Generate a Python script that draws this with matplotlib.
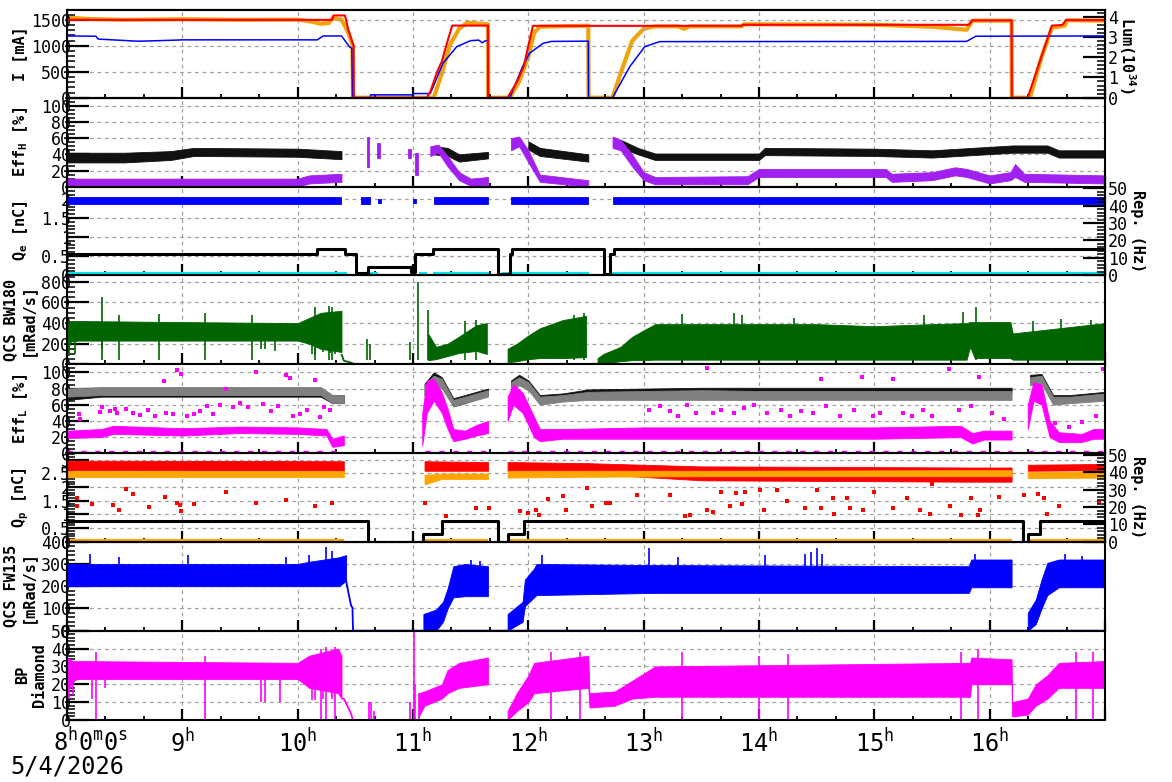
import numpy as np
import matplotlib
matplotlib.use("Agg")
import matplotlib.pyplot as plt
from matplotlib.ticker import MultipleLocator, FixedLocator, FuncFormatter, NullFormatter
from matplotlib import transforms

nan = np.nan

# ---------------- Panel 1 : currents and luminosity ----------------
her_t = [8.0, 8.25, 8.27, 8.6, 8.65, 8.95, 9.0, 10.17, 10.22, 10.38, 10.45, 10.47, 10.475, 10.63, 10.632,
         11.0, 11.002, 11.15, 11.26, 11.38, 11.5, 11.57, 11.6, 11.63, 11.65, 11.652, 11.84, 11.95, 12.01,
         12.13, 12.2, 12.52, 12.522, 12.73, 12.88, 13.01, 13.14, 15.8, 15.88, 17.0]
her_v = [1190, 1185, 1130, 1090, 1090, 1110, 1115, 1115, 1190, 1190, 980, 950, 0, 0, 55,
         55, 80, 80, 664, 985, 1100, 1110, 1060, 1100, 1100, 0, 0, 600, 857,
         1050, 1085, 1090, 0, 0, 600, 985, 1081, 1085, 1185, 1190]

ler_t = [8.0, 10.3, 10.31, 10.41, 10.44, 10.485, 10.487, 11.12, 11.15, 11.21, 11.25, 11.29, 11.34, 11.65,
         11.652, 11.82, 11.9, 11.96, 12.0, 12.04, 13.85, 13.86, 15.82, 15.85, 16.19, 16.192, 16.33, 16.45,
         16.54, 16.63, 16.66, 17.0]
ler_v = [1500, 1500, 1585, 1585, 1300, 1000, 0, 0, 116, 500, 700, 1017, 1390, 1390,
         0, 0, 300, 600, 1000, 1385, 1385, 1405, 1405, 1490, 1490, 0, 0, 800,
         1390, 1400, 1495, 1495]

lum_t = [8.0, 8.2, 8.5, 9.0, 9.5, 10.0, 10.12, 10.2, 10.27, 10.3, 10.38, 10.44, 10.475, 10.48, 11.18,
         11.25, 11.32, 11.4, 11.47, 11.65, 11.652, 11.84, 11.92, 12.0, 12.05, 12.1, 12.52, 12.522, 12.73,
         12.8, 12.9, 13.0, 13.1, 13.3, 13.35, 13.4, 13.85, 13.87, 15.0, 15.5, 15.8, 15.85, 16.19, 16.192,
         16.35, 16.45, 16.54, 16.65, 16.67, 17.0]
lum_v = [3.95, 3.88, 3.84, 3.87, 3.84, 3.85, 3.75, 3.65, 3.68, 3.92, 3.85, 3.2, 2.6, 0, 0,
         1.2, 2.6, 3.4, 3.7, 3.62, 0, 0, 0.8, 2.0, 3.2, 3.5, 3.55, 0, 0,
         1.2, 2.8, 3.4, 3.52, 3.52, 3.4, 3.52, 3.52, 3.62, 3.6, 3.5, 3.35, 3.8, 3.8, 0,
         0, 2.0, 3.45, 3.55, 3.82, 3.8]

# ---------------- Panel 2 : Eff_H ----------------
effh_k_t = [8.0, 8.5, 8.9, 9.1, 10.0, 10.38, nan, 11.18, 11.3, 11.4, 11.65, nan, 12.0, 12.1, 12.52, nan,
            12.8, 12.95, 13.1, 14.0, 14.05, 15.0, 15.5, 16.2, 16.5, 16.6, 17.0]
effh_k_lo = [30, 30, 33, 38, 37, 34, nan, 40, 38, 31, 35, nan, 46, 38, 31, nan,
             48, 40, 33, 33, 39, 38, 36, 42, 42, 36, 36]
effh_k_hi = [42, 42, 44, 48, 47, 44, nan, 50, 48, 40, 43, nan, 56, 48, 40, nan,
             58, 48, 41, 41, 48, 47, 45, 51, 51, 45, 45]

effh_p_t = [8.0, 10.0, 10.1, 10.38, nan, 10.6, 10.62, nan, 10.69, 10.71, nan, 10.96, 10.98, nan, 11.02,
            11.04, nan, 11.15, 11.22, 11.3, 11.4, 11.5, 11.65, nan, 11.85, 11.92, 12.0, 12.1, 12.52, nan,
            12.73, 12.8, 12.9, 13.0, 13.1, 13.9, 14.0, 15.1, 15.15, 15.5, 15.7, 15.8, 16.0, 16.18, 16.22,
            16.3, 17.0]
effh_p_lo = [0, 0, 4, 6, nan, 24, 24, nan, 35, 35, nan, 35, 35, nan, 15,
             15, nan, 38, 42, 25, 8, 1, 2, nan, 45, 50, 30, 6, 0, nan,
             48, 45, 25, 8, 3, 3, 12, 12, 6, 8, 14, 12, 4, 8, 12,
             6, 4]
effh_p_hi = [10, 10, 14, 16, nan, 62, 62, nan, 54, 54, nan, 47, 47, nan, 42,
             42, nan, 50, 52, 38, 18, 10, 12, nan, 60, 62, 45, 15, 8, nan,
             62, 58, 40, 18, 12, 13, 22, 22, 16, 18, 24, 22, 14, 18, 28,
             16, 14]

# ---------------- Panel 3 : Q_e and e- repetition ----------------
qe_t = [8.0, 10.38, nan, 10.55, 10.63, nan, 10.7, 10.72, nan, 11.0, 11.03, nan, 11.18, 11.65, nan,
        11.85, 12.52, nan, 12.73, 17.0]
qe_lo = [1.86, 1.86, nan, 1.86, 1.86, nan, 1.88, 1.88, nan, 1.88, 1.88, nan, 1.86, 1.86, nan,
         1.86, 1.86, nan, 1.86, 1.86]
qe_hi = [2.04, 2.04, nan, 2.04, 2.04, nan, 2.0, 2.0, nan, 2.0, 2.0, nan, 2.04, 2.04, nan,
         2.04, 2.04, nan, 2.05, 2.05]

rep_e_t = [8.0, 10.17, 10.41, 10.51, 10.61, 10.98, 11.02, 11.17, 11.74, 11.84, 11.86, 12.66, 12.71, 12.74, 17.0]
rep_e_v = [12.5, 15, 12.5, 1, 5, 2, 12.5, 15, 0.5, 12.5, 15, 0.5, 12.5, 15, 15]

cyan_t = [8.0, 10.43, nan, 10.58, 10.7, nan, 10.98, 11.03, nan, 11.05, 11.12, nan, 11.17, 11.66, nan,
          11.77, 12.53, nan, 12.7, 17.0]
cyan_v = [0.02, 0.02, nan, 0.02, 0.02, nan, 0.02, 0.02, nan, 0.02, 0.02, nan, 0.02, 0.02, nan,
          0.02, 0.02, nan, 0.02, 0.02]

# ---------------- Panel 4 : QCS BW180 ----------------
bw_t = [8.0, 8.03, 8.1, 9.0, 10.0, 10.1, 10.2, 10.38, nan, 11.13, 11.2, 11.3, 11.4, 11.55, 11.64, nan,
        11.82, 11.9, 12.0, 12.1, 12.3, 12.5, nan, 12.6, 12.65, 12.8, 12.9, 13.0, 13.1, 14.5, 15.0, 15.5,
        15.8, 15.83, 15.87, 16.18, 16.2, 16.6, 17.0]
bw_lo = [100, 220, 230, 230, 230, 200, 150, 120, nan, 40, 50, 80, 110, 130, 100, nan,
         20, 30, 50, 60, 60, 70, nan, 0, 10, 30, 40, 40, 45, 45, 45, 45,
         45, 170, 60, 60, 45, 45, 45]
bw_hi = [400, 420, 420, 410, 400, 450, 500, 520, nan, 300, 170, 200, 270, 380, 400, nan,
         150, 200, 280, 350, 430, 470, nan, 60, 100, 170, 267, 330, 390, 390, 370, 390,
         400, 410, 410, 410, 300, 350, 400]
bw_tail_t = [10.38, 10.4, 10.45, 10.5, 17.0]
bw_tail_v = [100, 35, 20, 0, 0]
bw_spk_t = [8.3, 8.45, 8.8, 9.2, 9.6, 10.15, 10.27, 10.3, 10.6, 10.63, 10.97, 11.04, 11.13, 11.45, 11.55,
            12.4, 12.48, 13.33, 13.78, 13.85, 14.3, 15.43, 15.77, 15.88, 16.38, 16.62, 16.88]
bw_spk_v = [650, 480, 490, 500, 480, 560, 570, 560, 250, 200, 220, 800, 530, 420, 430,
            480, 500, 493, 500, 480, 450, 478, 510, 560, 420, 440, 430]
bw_dip_t = [8.02, 8.07, 8.3, 9.68, 9.72, 9.8, 10.12, 10.15, 10.22, 10.28, 10.32]
bw_dip_v = [80, 100, 150, 150, 150, 130, 100, 100, 120, 110, 100]

# ---------------- Panel 5 : Eff_L ----------------
effl_t = [8.0, 8.3, 10.2, 10.3, 10.4, nan, 11.1, 11.18, 11.25, 11.35, 11.45, 11.65, nan, 11.85, 11.92,
          12.0, 12.1, 12.3, 12.52, 13.5, 14.0, 15.0, 15.8, 16.19, nan, 16.35, 16.45, 16.55, 16.7, 17.0]
effl_k_lo = [66, 70, 70, 62, 62, nan, 72, 88, 84, 58, 62, 72, nan, 78, 88,
             82, 62, 66, 73, 76, 76, 76, 76, 76, nan, 88, 90, 62, 64, 67]
effl_k_hi = [76, 80, 80, 72, 72, nan, 86, 100, 94, 68, 72, 80, nan, 90, 97,
             90, 72, 74, 79, 81, 81, 81, 81, 81, nan, 97, 98, 72, 72, 76]
effl_g_lo = [70, 72, 72, 62, 62, nan, 70, 84, 80, 58, 62, 70, nan, 75, 84,
             78, 60, 64, 66, 66, 66, 66, 66, 66, nan, 84, 86, 60, 62, 65]
effl_g_hi = [80, 82, 82, 72, 72, nan, 84, 96, 92, 66, 70, 78, nan, 88, 94,
             88, 70, 72, 76, 78, 77, 77, 77, 77, nan, 94, 96, 70, 70, 74]
effl_m_t = [8.0, 8.3, 8.4, 9.0, 9.5, 10.0, 10.25, 10.3, 10.4, nan, 11.08, 11.12, 11.18, 11.25, 11.3,
            11.35, 11.45, 11.55, 11.65, nan, 11.82, 11.87, 11.95, 12.05, 12.1, 12.3, 13.0, 14.0, 15.0,
            15.75, 15.85, 15.95, 16.19, nan, 16.33, 16.38, 16.45, 16.52, 16.6, 16.8, 16.9, 17.0]
effl_m_lo = [19, 20, 24, 22, 25, 24, 22, 8, 10, nan, 10, 50, 65, 50, 30,
             15, 18, 22, 25, nan, 40, 60, 50, 20, 15, 18, 18, 18, 18,
             20, 12, 17, 17, nan, 30, 65, 60, 20, 14, 14, 18, 18]
effl_m_hi = [28, 30, 34, 31, 33, 32, 30, 18, 22, nan, 50, 90, 92, 75, 55,
             30, 28, 35, 40, nan, 70, 85, 75, 45, 30, 30, 32, 32, 32,
             34, 25, 28, 28, nan, 60, 88, 85, 40, 26, 24, 30, 30]
effl_dot_t = [8.1, 8.11, 8.29, 8.3, 8.37, 8.42, 8.43, 8.51, 8.57, 8.63, 8.7, 8.76, 8.84, 8.86, 8.92, 8.95,
              8.99, 9.04, 9.1, 9.15, 9.21, 9.27, 9.33, 9.38, 9.44, 9.5, 9.57, 9.64, 9.7, 9.77, 9.83, 9.9,
              9.93, 9.96, 10.02, 10.08, 10.15, 10.19, 10.23, 10.28,
              13.05, 13.14, 13.23, 13.3, 13.38, 13.45, 13.55, 13.6, 13.67, 13.78, 13.87, 13.96, 14.07,
              14.19, 14.27, 14.36, 14.47, 14.54, 14.58, 14.7, 14.82, 14.89, 14.99, 15.05, 15.16, 15.25,
              15.33, 15.42, 15.5, 15.65, 15.73, 15.84, 15.91, 16.02, 16.12, 16.57, 16.69, 16.8, 16.92, 16.98]
effl_dot_v = [48, 42, 51, 57, 52, 55, 50, 55, 50, 47, 53, 46, 89, 50, 48, 103,
              98, 46, 49, 52, 58, 49, 60, 80, 57, 62, 57, 101, 61, 52, 58, 97,
              93, 46, 48, 54, 91, 45, 57, 53,
              54, 58, 52, 46, 60, 50, 106, 50, 54, 50, 56, 60, 50,
              54, 46, 52, 50, 92, 58, 46, 54, 94, 46, 50, 92, 50,
              46, 54, 46, 104, 54, 58, 94, 50, 42, 37, 33, 39, 46, 104]
effl_zero_t = [8.0, 10.4, nan, 11.1, 11.65, nan, 11.82, 16.19, nan, 16.33, 17.0]
effl_zero_v = [1, 1, nan, 1, 1, nan, 1, 1, nan, 1, 1]

# ---------------- Panel 6 : Q_p and e+ repetition ----------------
qp_t = [8.0, 10.4, nan, 11.1, 11.25, 11.65, nan, 11.82, 12.5, 13.5, 15.8, 16.19, nan, 16.33, 17.0]
qp_r_lo = [2.62, 2.6, nan, 2.6, 2.6, 2.6, nan, 2.58, 2.5, 2.25, 2.2, 2.2, nan, 2.6, 2.62]
qp_r_hi = [2.97, 2.95, nan, 2.95, 2.94, 2.92, nan, 2.92, 2.88, 2.76, 2.72, 2.72, nan, 2.82, 2.85]
qp_o_lo = [2.38, 2.38, nan, 2.1, 2.3, 2.3, nan, 2.35, 2.38, 2.4, 2.4, 2.4, nan, 2.33, 2.35]
qp_o_hi = [2.6, 2.6, nan, 2.45, 2.5, 2.5, nan, 2.6, 2.6, 2.6, 2.62, 2.62, nan, 2.55, 2.58]
qp_dot_t = [8.09, 8.09, 8.22, 8.4, 8.45, 8.51, 8.57, 8.71, 8.85, 8.95, 8.99, 8.98, 9.1, 9.38, 9.64, 9.9,
            10.15, 10.3, 11.1, 11.29, 11.55, 11.66, 11.93, 12.0, 12.07, 12.09, 12.17, 12.3, 12.33, 12.51,
            12.55, 12.67, 12.71, 12.94, 13.23, 13.36, 13.4, 13.55, 13.6, 13.67, 13.75, 13.8, 13.85, 13.88,
            14.01, 14.04, 14.16, 14.24, 14.4, 14.5, 14.54, 14.64, 14.65, 14.76, 14.79, 14.9, 15.0, 15.16,
            15.28, 15.4, 15.48, 15.5, 15.66, 15.75, 15.84, 15.9, 15.92, 16.08, 16.3, 16.42, 16.47, 16.5,
            16.6, 16.95]
qp_dot_v = [1.62, 1.31, 1.38, 1.34, 1.16, 1.92, 1.74, 1.28, 1.64, 1.42, 1.13, 1.36, 1.38, 1.83, 1.42, 1.52,
            1.31, 1.42, 1.42, 0.95, 1.25, 1.25, 1.13, 1.06, 1.15, 0.99, 1.58, 1.66, 1.15, 1.98,
            1.3, 1.42, 1.42, 1.7, 1.7, 0.94, 0.99, 1.18, 1.08, 1.83, 1.3, 1.78, 1.4, 1.83,
            1.9, 1.15, 1.88, 1.5, 1.25, 1.88, 1.25, 1.6, 1.0, 1.6, 1.25, 1.15, 1.83, 1.25,
            1.6, 1.15, 1.0, 2.1, 1.3, 0.98, 1.6, 0.98, 1.15, 1.63, 1.7, 1.75, 1.6, 1.0,
            1.3, 1.45]
qp_base_t = [8.0, 10.4, nan, 11.1, 11.65, nan, 11.82, 16.19, nan, 16.33, 17.0]
qp_base_v = [0.04, 0.04, nan, 0.04, 0.04, nan, 0.04, 0.04, nan, 0.04, 0.04]
rep_p_t = [8.0, 10.61, 11.09, 11.25, 11.74, 11.82, 11.96, 16.29, 16.33, 16.44, 17.0]
rep_p_v = [12, 0, 4.5, 12, 0, 4.5, 12, 0, 4.5, 12, 12]

# ---------------- Panel 7 : QCS FW135 ----------------
fw_t = [8.0, 10.0, 10.1, 10.36, 10.42, nan, 11.09, 11.2, 11.26, 11.3, 11.35, 11.45, 11.65, nan,
        11.82, 11.95, 11.97, 12.05, 12.07, 13.1, 15.82, 15.84, 16.19, nan, 16.33, 16.4, 16.45, 16.5,
        16.6, 17.0]
fw_lo = [200, 200, 200, 200, 225, nan, 0, 0, 40, 100, 150, 155, 155, nan,
         0, 40, 110, 150, 160, 170, 170, 195, 195, nan, 0, 30, 100, 160,
         195, 195]
fw_hi = [300, 300, 310, 330, 340, nan, 75, 95, 130, 190, 290, 300, 290, nan,
         75, 130, 230, 280, 300, 295, 290, 320, 320, nan, 80, 140, 230, 305,
         320, 320]
fw_tail_t = [8.0, 10.42, 10.44, 10.455, 10.465, 10.475, 10.48, 17.0]
fw_tail_v = [200, 225, 171, 133, 110, 105, 0, 0]
fw_spk_t = [8.2, 8.45, 9.05, 9.9, 10.1, 10.25, 10.3, 11.5, 11.58, 12.12, 13.05, 13.3, 14.05, 14.4,
            14.45, 14.5, 14.55, 15.87, 16.65, 16.8]
fw_spk_v = [345, 330, 340, 330, 340, 375, 360, 320, 315, 340, 370, 330, 340, 345,
            355, 370, 345, 345, 345, 335]

# ---------------- Panel 8 : BP Diamond ----------------
bp_t = [8.0, 8.05, 8.1, 10.0, 10.1, 10.35, 10.38, nan, 11.05, 11.1, 11.25, 11.3, 11.4, 11.65, nan,
        11.82, 11.9, 12.0, 12.05, 12.52, 12.53, 12.75, 12.9, 13.1, 15.83, 15.84, 16.19, 16.195, 16.33,
        16.4, 16.5, 16.6, 17.0]
bp_lo = [15, 22, 23, 23, 18, 15, 12, nan, 2, 8, 12, 15, 18, 20, nan,
         0, 5, 10, 15, 18, 7, 8, 12, 13, 13, 20, 20, 2, 3,
         8, 12, 18, 18]
bp_hi = [35, 33, 33, 32, 36, 40, 36, nan, 15, 16, 20, 28, 32, 35, nan,
         5, 15, 25, 32, 36, 15, 16, 22, 30, 32, 35, 34, 10, 12,
         20, 25, 32, 33]
bp_tail_t = [10.38, 10.4, 10.43, 10.46, 10.48, 17.0]
bp_tail_v = [12, 12, 8, 4, 0, 0]
bp_spk_t = [8.25, 9.2, 10.2, 10.25, 10.32, 10.62, 10.64, 10.66, 10.97, 11.01, 11.02, 11.05, 12.2, 12.45,
            13.33, 14.0, 14.25, 15.75, 15.9, 16.75, 16.9]
bp_spk_v = [38, 36, 40, 41, 41, 10, 10, 5, 10, 50, 20, 15, 38, 38,
            38, 36, 37, 38, 40, 38, 38]
bp_dip_t = [8.02, 8.05, 8.22, 8.33, 9.68, 9.72, 9.85, 10.12, 10.15, 10.22, 10.3]
bp_dip_v = [12, 14, 12, 18, 10, 10, 10, 11, 11, 12, 12]

hours = [8, 9, 10, 11, 12, 13, 14, 15, 16, 17]

# ====================== drawing ======================
plt.rcParams['font.family'] = ['DejaVu Sans Mono']
plt.rcParams['mathtext.fontset'] = 'custom'
plt.rcParams['mathtext.rm'] = 'DejaVu Sans Mono'
plt.rcParams['mathtext.it'] = 'DejaVu Sans Mono'
plt.rcParams['mathtext.bf'] = 'DejaVu Sans Mono:bold'

W, H = 1172, 782
fig = plt.figure(figsize=(W / 100, H / 100), dpi=100)
L, R = 67, 1105
edges = [9.5, 97.7, 186.7, 275.2, 364.3, 453.3, 541.7, 630.7, 720]
TICK_FS = 12


def segments(t, *vals):
    t = np.asarray(t, float)
    vals = [np.asarray(v, float) for v in vals]
    breaks = np.where(np.isnan(t))[0]
    start = 0
    out = []
    for b in list(breaks) + [len(t)]:
        if b > start:
            out.append((t[start:b],) + tuple(v[start:b] for v in vals))
        start = b + 1
    return out


def band(ax, t, lo, hi, color, **kw):
    for tt, l, h in segments(t, lo, hi):
        ax.fill_between(tt, l, h, color=color, lw=0.6, edgecolor=color, **kw)


def line(ax, t, v, color, lw=1.2, **kw):
    for tt, vv in segments(t, v):
        ax.plot(tt, vv, color=color, lw=lw, solid_capstyle='butt', **kw)


grid_kw = dict(color='#a0a0a0', lw=0.9, ls=(0, (3, 3)))


def style(ax, ylim, major, minor, fmt='%g'):
    ax.set_xlim(8, 17)
    ax.set_ylim(*ylim)
    ax.xaxis.set_major_locator(FixedLocator(hours))
    ax.xaxis.set_minor_locator(MultipleLocator(1 / 3))
    ax.xaxis.set_major_formatter(NullFormatter())
    ax.yaxis.set_major_locator(FixedLocator(major))
    ax.yaxis.set_minor_locator(MultipleLocator(minor))
    ax.yaxis.set_major_formatter(FuncFormatter(lambda v, p: fmt % v))
    ax.tick_params(axis='x', which='major', direction='in', length=8, width=1.6, top=False, bottom=True)
    ax.tick_params(axis='x', which='minor', direction='in', length=3, width=1.3, top=False, bottom=True)
    ax.tick_params(axis='y', which='major', direction='in', length=16, width=1.6, right=False,
                   labelsize=TICK_FS, pad=-3)
    ax.tick_params(axis='y', which='minor', direction='in', length=6, width=1.1, right=False)
    for s in ax.spines.values():
        s.set_linewidth(1.5)
    ax.grid(True, which='major', **grid_kw)
    ax.set_axisbelow(True)


def style_twin(tw, ylim, major, minor):
    tw.set_ylim(*ylim)
    tw.yaxis.set_major_locator(FixedLocator(major))
    tw.yaxis.set_minor_locator(MultipleLocator(minor))
    tw.yaxis.set_major_formatter(FuncFormatter(lambda v, p: '%g' % v))
    tw.tick_params(axis='y', which='major', direction='in', length=16, width=1.6, labelsize=TICK_FS, pad=2)
    tw.tick_params(axis='y', which='minor', direction='in', length=6, width=1.1)


axes = []
for i in range(8):
    top, bot = edges[i], edges[i + 1]
    ax = fig.add_axes([L / W, 1 - bot / H, (R - L) / W, (bot - top) / H])
    axes.append(ax)

# Panel 1
ax = axes[0]
style(ax, (0, 1700), [0, 500, 1000, 1500], 100)
tw = ax.twinx()
style_twin(tw, (0, 4.35), [0, 1, 2, 3, 4], 0.2)
line(tw, lum_t, lum_v, '#f0a30a', lw=3.0)
ax.set_zorder(tw.get_zorder() + 1)
ax.patch.set_visible(False)
line(ax, her_t, her_v, '#0000ff', lw=1.1)
line(ax, ler_t, ler_v, '#ff0000', lw=1.5)

# Panel 2
ax = axes[1]
style(ax, (0, 110), [0, 20, 40, 60, 80, 100], 5)
band(ax, effh_k_t, effh_k_lo, effh_k_hi, '#111111')
band(ax, effh_p_t, effh_p_lo, effh_p_hi, '#a020f0')

# Panel 3
ax = axes[2]
style(ax, (0, 2.32), [0, 0.5, 1, 1.5, 2], 0.1)
band(ax, qe_t, qe_lo, qe_hi, '#0000ff')
line(ax, cyan_t, cyan_v, '#00e5ee', lw=3.0)
tw = ax.twinx()
style_twin(tw, (0, 51), [0, 10, 20, 30, 40, 50], 2)
tw.step(rep_e_t, rep_e_v, where='post', color='black', lw=2.2)

# Panel 4
ax = axes[3]
style(ax, (0, 865), [0, 200, 400, 600, 800], 50)
line(ax, bw_tail_t, bw_tail_v, '#006400', lw=1.3)
band(ax, bw_t, bw_lo, bw_hi, '#006400')
ax.vlines(bw_spk_t, 40, bw_spk_v, color='#006400', lw=1.2)
ax.vlines(bw_dip_t, bw_dip_v, 240, color='#006400', lw=1.2)

# Panel 5
ax = axes[4]
style(ax, (0, 110), [0, 20, 40, 60, 80, 100], 5)
line(ax, effl_zero_t, effl_zero_v, '#ff00ff', lw=2.5, ls=(0, (1.5, 2.5)))
band(ax, effl_t, effl_k_lo, effl_k_hi, '#111111')
band(ax, effl_t, effl_g_lo, effl_g_hi, '#808080')
ax.scatter(effl_dot_t, effl_dot_v, s=5, marker='s', color='#ff00ff', lw=0)
band(ax, effl_m_t, effl_m_lo, effl_m_hi, '#ff00ff')

# Panel 6
ax = axes[5]
style(ax, (0, 3.24), [0, 0.5, 1, 1.5, 2, 2.5, 3], 0.1)
band(ax, qp_t, qp_r_lo, qp_r_hi, '#ff0000')
band(ax, qp_t, qp_o_lo, qp_o_hi, '#ffa500')
ax.scatter(qp_dot_t, qp_dot_v, s=5, marker='s', color='#ff0000', lw=0)
line(ax, qp_base_t, qp_base_v, '#ffa500', lw=3.0)
tw = ax.twinx()
style_twin(tw, (0, 51), [0, 10, 20, 30, 40, 50], 2)
tw.step(rep_p_t, rep_p_v, where='post', color='black', lw=2.2)

# Panel 7
ax = axes[6]
style(ax, (0, 400), [0, 100, 200, 300, 400], 20)
line(ax, fw_tail_t, fw_tail_v, '#0000ff', lw=1.3)
band(ax, fw_t, fw_lo, fw_hi, '#0000ff')
ax.vlines(fw_spk_t, 200, fw_spk_v, color='#0000ff', lw=1.2)

# Panel 8
ax = axes[7]
style(ax, (0, 50), [0, 10, 20, 30, 40, 50], 2)
line(ax, bp_tail_t, bp_tail_v, '#ff00ff', lw=1.3)
band(ax, bp_t, bp_lo, bp_hi, '#ff00ff')
ax.vlines(bp_spk_t, 0.5, bp_spk_v, color='#ff00ff', lw=1.2)
ax.vlines(bp_dip_t, bp_dip_v, 25, color='#ff00ff', lw=1.2)

# x tick labels on the bottom panel
ax = axes[7]
trans = transforms.blended_transform_factory(ax.transData, ax.transAxes)
for h in hours[1:-1]:
    ax.text(h, -0.10, r'$\mathregular{%d^{h}}$' % h, transform=trans, ha='center', va='top', fontsize=17)
fig.text(53 / W, 1 - 728 / H, r'$\mathregular{8^{h}0^{m}0^{s}}$', ha='left', va='top', fontsize=17)
fig.text(10 / W, 1 - 779 / H, '5/4/2026', ha='left', va='bottom', fontsize=17)

# y labels
ylabels = [('I [mA]', 20), (r'Eff$\mathregular{_H}$ [%]', 21), (r'Q$\mathregular{_e}$ [nC]', 21),
           ('QCS BW180\n[mRad/s]', 19), (r'Eff$\mathregular{_L}$ [%]', 21), (r'Q$\mathregular{_p}$ [nC]', 21),
           ('QCS FW135\n[mRad/s]', 19), ('BP\nDiamond', 31)]
for i, (txt, x) in enumerate(ylabels):
    yc = (edges[i] + edges[i + 1]) / 2
    fig.text(x / W, 1 - yc / H, txt, rotation=90, ha='center', va='center', fontsize=11,
             fontweight='bold', multialignment='center', linespacing=1.15)

fig.text(1127 / W, 1 - 55 / H, r'Lum(10$\mathregular{^{34}}$)', rotation=270, ha='center', va='center',
         fontsize=11, fontweight='bold')
for yc in [(edges[2] + edges[3]) / 2, (edges[5] + edges[6]) / 2]:
    fig.text(1137 / W, 1 - yc / H, 'Rep. (Hz)', rotation=270, ha='center', va='center',
             fontsize=11, fontweight='bold')

fig.savefig('out.png', dpi=100, facecolor='white')
